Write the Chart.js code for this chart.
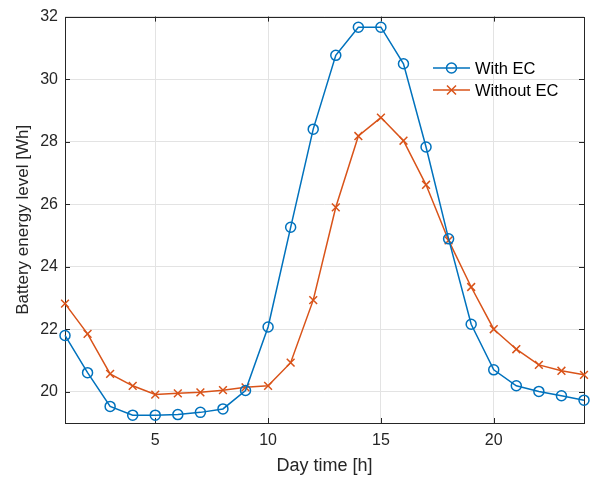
<!DOCTYPE html>
<html>
<head>
<meta charset="utf-8">
<script src="https://cdn.jsdelivr.net/npm/chart.js@4.4.1/dist/chart.umd.min.js"></script>
<style>
  html, body { margin: 0; padding: 0; background: #fff; }
  #wrap { width: 597px; height: 481px; }
</style>
</head>
<body>
<div id="wrap"><canvas id="batteryChart" width="597" height="481"></canvas></div>
<script>
// data
var hours = [1,2,3,4,5,6,7,8,9,10,11,12,13,14,15,16,17,18,19,20,21,22,23,24];
var withEC = [21.80,20.61,19.53,19.25,19.25,19.27,19.34,19.45,20.04,22.07,25.26,28.40,
              30.76,31.66,31.66,30.49,27.83,24.89,22.16,20.70,20.19,20.01,19.87,19.73];
var withoutEC = [22.82,21.85,20.57,20.19,19.91,19.95,19.98,20.05,20.14,20.19,20.93,22.93,
                 25.90,28.18,28.77,28.03,26.62,24.84,23.35,22.00,21.36,20.86,20.67,20.54];
var xTicks = [5,10,15,20];
var yTicks = [20,22,24,26,28,30,32];

var FONT = '"Liberation Sans", Arial, Helvetica, sans-serif';
var TXT = '#262626';

function toPoints(vals) {
    return hours.map((h, i) => ({ x: h, y: vals[i] }));
}

// box round the axes with inward ticks, like matlab
var boxPlugin = {
    id: 'boxPlugin',
    beforeDatasetsDraw: function (chart) {
        var ctx = chart.ctx, a = chart.chartArea;
        var xs = chart.scales.x, ys = chart.scales.y;
        ctx.save();
        ctx.strokeStyle = TXT;
        ctx.lineWidth = 1;
        ctx.beginPath();
        xTicks.forEach(v => {
            var px = Math.round(xs.getPixelForValue(v)) + 0.5;
            ctx.moveTo(px, a.bottom); ctx.lineTo(px, a.bottom - 5);
            ctx.moveTo(px, a.top); ctx.lineTo(px, a.top + 5);
        });
        yTicks.forEach(v => {
            var py = Math.round(ys.getPixelForValue(v)) + 0.5;
            ctx.moveTo(a.left, py); ctx.lineTo(a.left + 5, py);
            ctx.moveTo(a.right, py); ctx.lineTo(a.right - 5, py);
        });
        ctx.stroke();
        ctx.strokeRect(Math.round(a.left) + 0.5, Math.round(a.top) + 0.5,
            Math.round(a.right - a.left), Math.round(a.bottom - a.top));
        ctx.restore();
    },
    afterDraw: function (chart) {
        // legend inside the axes, top right, no frame
        var ctx = chart.ctx;
        ctx.save();
        chart.data.datasets.forEach((ds, i) => {
            var y = 68 + i * 22;
            ctx.strokeStyle = ds.borderColor;
            ctx.lineWidth = 1.5;
            ctx.beginPath();
            ctx.moveTo(433, y); ctx.lineTo(470, y);
            ctx.stroke();
            ctx.beginPath();
            if (ds.pointStyle === 'circle') {
                ctx.arc(451.5, y, 5, 0, Math.PI * 2);
            } else {
                ctx.moveTo(447, y - 4.5); ctx.lineTo(456, y + 4.5);
                ctx.moveTo(456, y - 4.5); ctx.lineTo(447, y + 4.5);
            }
            ctx.stroke();
            ctx.fillStyle = '#000';
            ctx.font = '16.5px ' + FONT;
            ctx.textBaseline = 'middle';
            ctx.textAlign = 'left';
            ctx.fillText(ds.label, 475, y + 1);
        });
        ctx.restore();
    }
};

var ctx = document.getElementById('batteryChart').getContext('2d');
var chart = new Chart(ctx, {
    type: 'line',
    data: {
        datasets: [
            {
                label: 'With EC',
                data: toPoints(withEC),
                borderColor: '#0072BD',
                backgroundColor: 'rgba(0,0,0,0)',
                borderWidth: 1.5,
                pointStyle: 'circle',
                pointRadius: 5,
                pointBorderWidth: 1.5,
                pointBackgroundColor: 'rgba(0,0,0,0)',
                pointBorderColor: '#0072BD',
                tension: 0,
                clip: false
            },
            {
                label: 'Without EC',
                data: toPoints(withoutEC),
                borderColor: '#D95319',
                backgroundColor: 'rgba(0,0,0,0)',
                borderWidth: 1.5,
                pointStyle: 'crossRot',
                pointRadius: 5.5,
                pointBorderWidth: 1.5,
                pointBorderColor: '#D95319',
                tension: 0,
                clip: false
            }
        ]
    },
    options: {
        responsive: false,
        animation: false,
        layout: { padding: { top: 15, right: 13, left: 0, bottom: 0 } },
        plugins: {
            legend: { display: false },
            tooltip: { enabled: false }
        },
        scales: {
            x: {
                type: 'linear',
                min: 1,
                max: 24,
                afterBuildTicks: function (s) { s.ticks = xTicks.map(v => ({ value: v })); },
                afterFit: function (s) { s.height = 58; },
                grid: { color: '#e3e3e3', drawTicks: false, lineWidth: 1 },
                border: { display: false },
                ticks: { color: TXT, font: { family: FONT, size: 16 }, padding: 8, maxRotation: 0 },
                title: { display: true, text: 'Day time [h]', color: TXT, font: { family: FONT, size: 18 }, padding: { top: 1 } }
            },
            y: {
                min: 19,
                max: 32,
                afterBuildTicks: function (s) { s.ticks = yTicks.map(v => ({ value: v })); },
                afterFit: function (s) { s.width = 65; },
                grid: { color: '#e3e3e3', drawTicks: false, lineWidth: 1 },
                border: { display: false },
                ticks: { color: TXT, font: { family: FONT, size: 16 }, padding: 7 },
                title: { display: true, text: 'Battery energy level [Wh]', color: TXT, font: { family: FONT, size: 17 }, padding: { top: 13, bottom: 0 } }
            }
        }
    },
    plugins: [boxPlugin]
});
</script>
</body>
</html>
